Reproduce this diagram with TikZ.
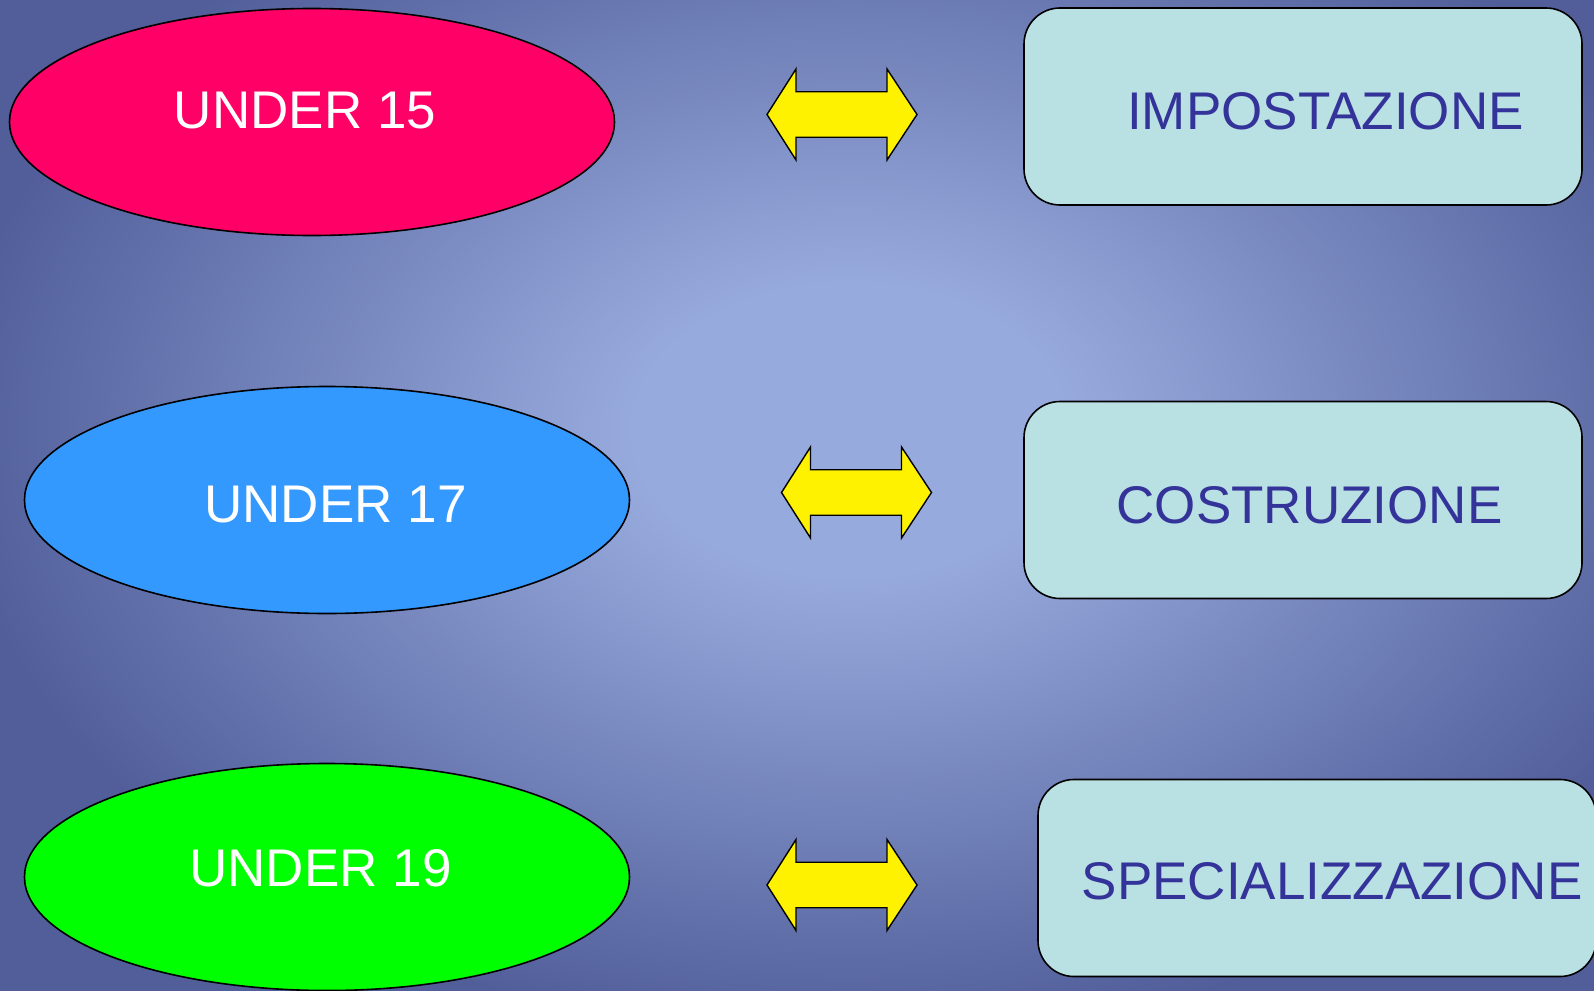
\documentclass[tikz,border=0pt]{standalone}
\usepackage{fontspec}
\setmainfont{Liberation Sans}
\usetikzlibrary{calc,shapes.geometric}
\definecolor{bglight}{HTML}{97AADD}
\definecolor{bgdark}{HTML}{515E9A}
\definecolor{agered}{HTML}{FF0066}
\definecolor{ageblue}{HTML}{3399FF}
\definecolor{agegreen}{HTML}{00FF00}
\definecolor{phasefill}{HTML}{B9E0E3}
\definecolor{phaseblue}{HTML}{333399}
\pgfdeclareradialshading{bgglow}{\pgfpoint{0bp}{0bp}}{color(0bp)=(bglight); color(3bp)=(bglight); color(12.5bp)=(bgdark); color(50bp)=(bgdark)}
\def\twoway(#1){\draw[yarrow] ($(#1)+(-75,0)$) -- ++(29,-45.5) -- ++(0,22.75) -- ++(91,0) -- ++(0,-22.75) -- ++(30,45.5) -- ++(-30,45.5) -- ++(0,-22.75) -- ++(-91,0) -- ++(0,22.75) -- cycle;}

\begin{document}
\begin{tikzpicture}[x=1pt, y=-1pt,
	age/.style={ellipse, draw=black, line width=1.6pt, minimum width=605pt, minimum height=227pt, inner sep=0pt},
	agelabel/.style={text=white, font=\fontsize{53}{60}\selectfont, inner sep=0pt},
	phase/.style={rectangle, rounded corners=36pt, draw=black, line width=1.6pt, fill=phasefill, minimum width=558pt, minimum height=197pt, inner sep=0pt},
	phaselabel/.style={text=phaseblue, font=\fontsize{53}{60}\selectfont, inner sep=0pt},
	yarrow/.style={draw=black, line width=1.4pt, fill=yellow, line join=miter}]
		%%%%% START %%%%%
		\useasboundingbox (0, 0) rectangle (1594, 990);
		\fill[bgdark] (0, 0) rectangle (1594, 990);
		\begin{scope}
			\clip (0, 0) rectangle (1594, 990);
			\shade[shading=bgglow] (850, 430) ellipse (1800 and 1220);
		\end{scope}
		
		\node[age, fill=agered] (u15) at (312, 122) {};
		\node[agelabel] (u15t) at (305, 111) {UNDER 15};
		
		\node[age, fill=ageblue] (u17) at (327, 500) {};
		\node[agelabel] (u17t) at (335.5, 505) {UNDER 17};
		
		\node[age, fill=agegreen] (u19) at (327, 877) {};
		\node[agelabel] (u19t) at (320.5, 868) {UNDER 19};
		
		\node[phase] (imp) at (1303, 106.5) {};
		\node[phaselabel] (impt) at (1325.5, 111.5) {IMPOSTAZIONE};
		
		\node[phase] (cos) at (1303, 500) {};
		\node[phaselabel] (cost) at (1309.5, 505) {COSTRUZIONE};
		
		\node[phase] (spe) at (1317, 878) {};
		\node[phaselabel] (spet) at (1332, 881.7) {SPECIALIZZAZIONE};
		
		\coordinate (a15) at (842, 114.5);
		\coordinate (a17) at (856.5, 492.5);
		\coordinate (a19) at (842, 885);
		\twoway(a15)
		\twoway(a17)
		\twoway(a19)
		%%%%% END %%%%%
\end{tikzpicture}
\end{document}
